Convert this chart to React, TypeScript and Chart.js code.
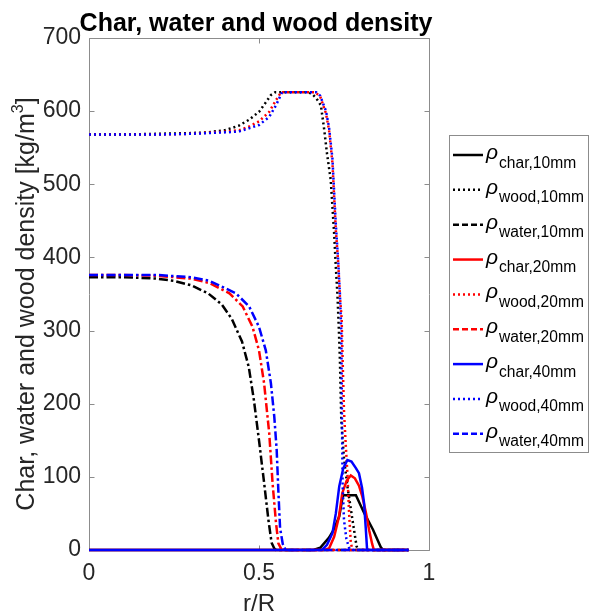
import React, { useEffect, useRef } from 'react';
import { Chart, registerables } from 'chart.js';

Chart.register(...registerables);

// ---------- tick values ----------
const xTickValues = [0, 0.5, 1];
const yTickValues = [0, 100, 200, 300, 400, 500, 600, 700];

// ---------- 10 mm ----------
const char10X = [0, 0.66, 0.68, 0.706, 0.72, 0.736, 0.747, 0.785, 0.81, 0.835, 0.858, 0.865, 0.94];
const char10Y = [0, 0, 3, 17, 28, 46, 75, 75, 50, 28, 4, 0, 0];

const wood10X = [0, 0.1, 0.2, 0.3, 0.35, 0.4, 0.44, 0.47, 0.5, 0.52, 0.535, 0.548, 0.64, 0.655, 0.668, 0.682, 0.692, 0.7, 0.711, 0.716, 0.721, 0.726, 0.731, 0.735, 0.738, 0.742, 0.75, 0.76, 0.775, 0.787, 0.792, 0.94];
const wood10Y = [568, 568, 569, 570, 571, 574, 580, 588, 599, 612, 622, 626, 626, 624, 618, 608, 574, 542, 506, 469, 433, 387, 346, 300, 260, 178, 125, 87, 41, 5, 0, 0];

const water10X = [0, 0.1, 0.2, 0.25, 0.3, 0.35, 0.39, 0.42, 0.45, 0.47, 0.485, 0.5, 0.515, 0.528, 0.537, 0.545, 0.55, 0.94];
const water10Y = [373, 373, 371, 368, 362, 351, 336, 316, 285, 250, 205, 150, 92, 40, 10, 2, 0, 0];

// ---------- 20 mm ----------
const char20X = [0, 0.69, 0.706, 0.721, 0.735, 0.745, 0.758, 0.77, 0.782, 0.794, 0.804, 0.815, 0.824, 0.833, 0.838, 0.94];
const char20Y = [0, 0, 2, 18, 45, 78, 95, 102, 98, 88, 73, 50, 27, 8, 0, 0];

const wood20X = [0, 0.2, 0.3, 0.4, 0.442, 0.471, 0.5, 0.53, 0.55, 0.565, 0.665, 0.68, 0.697, 0.706, 0.716, 0.721, 0.726, 0.733, 0.738, 0.743, 0.746, 0.75, 0.755, 0.76, 0.765, 0.77, 0.775, 0.94];
const wood20Y = [568, 568, 569, 572, 574, 579, 586, 599, 615, 626, 626, 620, 597, 574, 529, 483, 437, 392, 346, 317, 260, 190, 145, 105, 50, 10, 0, 0];

const water20X = [0, 0.1, 0.2, 0.3, 0.354, 0.413, 0.452, 0.481, 0.5, 0.515, 0.53, 0.54, 0.55, 0.557, 0.567, 0.94];
const water20Y = [376, 376, 375, 371, 365, 351, 333, 305, 273, 228, 160, 91, 37, 9, 0, 0];

// ---------- 40 mm ----------
const char40X = [0, 0.685, 0.7, 0.716, 0.726, 0.736, 0.748, 0.76, 0.772, 0.785, 0.794, 0.803, 0.809, 0.814, 0.818, 0.94];
const char40Y = [0, 0, 7, 23, 50, 87, 112, 123, 121, 112, 105, 85, 64, 30, 0, 0];

const wood40X = [0, 0.2, 0.3, 0.4, 0.44, 0.5, 0.53, 0.55, 0.568, 0.668, 0.68, 0.697, 0.706, 0.716, 0.721, 0.726, 0.733, 0.738, 0.742, 0.744, 0.746, 0.75, 0.757, 0.765, 0.768, 0.94];
const wood40Y = [568, 568, 569, 571, 572, 581, 592, 608, 626, 626, 621, 600, 578, 535, 490, 445, 395, 350, 300, 178, 87, 41, 15, 3, 0, 0];

const water40X = [0, 0.1, 0.2, 0.3, 0.354, 0.432, 0.471, 0.5, 0.52, 0.535, 0.545, 0.552, 0.557, 0.562, 0.57, 0.578, 0.94];
const water40Y = [376, 376, 376, 373, 368, 351, 333, 305, 273, 228, 182, 137, 80, 30, 8, 0, 0];

// ---------- legend labels ----------
const legendSubs = [
  'char,10mm', 'wood,10mm', 'water,10mm',
  'char,20mm', 'wood,20mm', 'water,20mm',
  'char,40mm', 'wood,40mm', 'water,40mm',
];

const titleText = 'Char, water and wood density';
const yLabelMain = 'Char, water and wood density [kg/m';
const xLabelText = 'r/R';

const FONT = "'Liberation Sans', Arial, Helvetica, sans-serif";
const AXIS_GRAY = '#8c8c8c';
const TEXT_COLOR = '#262626';

const DOT = [2, 3];
const DASHDOT = [9, 3, 2.5, 3];

const seriesList = [
  { x: char10X, y: char10Y, color: '#000000', dash: [] as number[] },
  { x: wood10X, y: wood10Y, color: '#000000', dash: DOT },
  { x: water10X, y: water10Y, color: '#000000', dash: DASHDOT },
  { x: char20X, y: char20Y, color: '#ff0000', dash: [] as number[] },
  { x: wood20X, y: wood20Y, color: '#ff0000', dash: DOT },
  { x: water20X, y: water20Y, color: '#ff0000', dash: DASHDOT },
  { x: char40X, y: char40Y, color: '#0000ff', dash: [] as number[] },
  { x: wood40X, y: wood40Y, color: '#0000ff', dash: DOT },
  { x: water40X, y: water40Y, color: '#0000ff', dash: DASHDOT },
];

const legendDash = [[], [2, 3], [6, 3]];

const decorPlugin = {
  id: 'matlabDecor',
  beforeDatasetsDraw(chart: any) {
    const { ctx, chartArea: a, scales } = chart;
    ctx.save();
    ctx.strokeStyle = AXIS_GRAY;
    ctx.lineWidth = 1;
    const L = Math.round(a.left) + 0.5;
    const R = Math.round(a.right) + 0.5;
    const T = Math.round(a.top) + 0.5;
    const B = Math.round(a.bottom) + 0.5;
    ctx.beginPath();
    ctx.rect(L, T, R - L, B - T);
    ctx.stroke();
    const tl = 5;
    ctx.beginPath();
    yTickValues.forEach((v) => {
      const y = Math.round(scales.y.getPixelForValue(v)) + 0.5;
      ctx.moveTo(L, y); ctx.lineTo(L + tl, y);
      ctx.moveTo(R, y); ctx.lineTo(R - tl, y);
    });
    xTickValues.forEach((v) => {
      const x = Math.round(scales.x.getPixelForValue(v)) + 0.5;
      ctx.moveTo(x, B); ctx.lineTo(x, B - tl);
      ctx.moveTo(x, T); ctx.lineTo(x, T + tl);
    });
    ctx.stroke();
    ctx.restore();
  },
  afterDraw(chart: any) {
    const { ctx, chartArea: a } = chart;
    ctx.save();
    // title
    ctx.fillStyle = '#000000';
    ctx.font = `bold 25px ${FONT}`;
    ctx.textAlign = 'center';
    ctx.textBaseline = 'alphabetic';
    ctx.fillText(titleText, (a.left + a.right) / 2 - 3, 31);

    // x label
    ctx.fillStyle = TEXT_COLOR;
    ctx.font = `24px ${FONT}`;
    ctx.fillText(xLabelText, (a.left + a.right) / 2, 611);

    // y label (rotated, with superscript 3)
    ctx.save();
    ctx.translate(34, 304);
    ctx.rotate(-Math.PI / 2);
    ctx.font = `25px ${FONT}`;
    const wMain = ctx.measureText(yLabelMain).width;
    ctx.font = `16px ${FONT}`;
    const wSup = ctx.measureText('3').width;
    ctx.font = `25px ${FONT}`;
    const wEnd = ctx.measureText(']').width;
    const total = wMain + wSup + wEnd;
    let cx = -total / 2;
    ctx.textAlign = 'left';
    ctx.fillText(yLabelMain, cx, 0);
    cx += wMain;
    ctx.font = `16px ${FONT}`;
    ctx.fillText('3', cx, -11);
    cx += wSup;
    ctx.font = `25px ${FONT}`;
    ctx.fillText(']', cx, 0);
    ctx.restore();

    // legend
    const bx = 449.5, by = 135.5, bw = 139, bh = 317;
    ctx.fillStyle = '#ffffff';
    ctx.fillRect(bx, by, bw, bh);
    ctx.strokeStyle = AXIS_GRAY;
    ctx.lineWidth = 1;
    ctx.setLineDash([]);
    ctx.strokeRect(bx, by, bw, bh);
    seriesList.forEach((s, i) => {
      const y = 155 + i * 34.85;
      ctx.save();
      ctx.strokeStyle = s.color;
      ctx.lineWidth = 2.5;
      ctx.setLineDash(legendDash[i % 3]);
      ctx.beginPath();
      ctx.moveTo(453, y);
      ctx.lineTo(483, y);
      ctx.stroke();
      ctx.restore();
      ctx.fillStyle = '#000000';
      ctx.textAlign = 'left';
      ctx.font = `italic 21px ${FONT}`;
      ctx.fillText('\u03C1', 486, y + 4);
      ctx.font = `15.6px ${FONT}`;
      ctx.fillText(legendSubs[i], 499, y + 12.5);
    });
    ctx.restore();
  },
};

export default function App() {
  const canvasRef = useRef<HTMLCanvasElement | null>(null);

  useEffect(() => {
    document.body.style.margin = '0';
    const canvas = canvasRef.current;
    if (!canvas) return;
    const datasets = seriesList.map((s, i) => ({
      label: legendSubs[i],
      data: s.x.map((x, k) => ({ x, y: s.y[k] })),
      borderColor: s.color,
      backgroundColor: s.color,
      borderWidth: 2.5,
      borderDash: s.dash,
      pointRadius: 0,
      tension: 0,
      fill: false,
      clip: 6,
      order: seriesList.length - i,
    }));
    const chart = new Chart(canvas, {
      type: 'line',
      data: { datasets },
      options: {
        animation: false,
        responsive: false,
        devicePixelRatio: 1,
        layout: { padding: { top: 38, right: 161, left: 0, bottom: 0 } },
        plugins: {
          legend: { display: false },
          title: { display: false },
          tooltip: { enabled: false },
        },
        scales: {
          x: {
            type: 'linear',
            min: 0,
            max: 1,
            afterBuildTicks: (scale: any) => {
              scale.ticks = xTickValues.map((v) => ({ value: v }));
            },
            afterFit: (scale: any) => { scale.height = 62; },
            grid: { display: false, drawTicks: false },
            border: { display: false },
            ticks: {
              color: TEXT_COLOR,
              font: { family: FONT, size: 23 },
              padding: 10,
              maxRotation: 0,
              autoSkip: false,
              callback: (v: any) => String(v),
            },
          },
          y: {
            type: 'linear',
            min: 0,
            max: 700,
            afterBuildTicks: (scale: any) => {
              scale.ticks = yTickValues.map((v) => ({ value: v }));
            },
            afterFit: (scale: any) => { scale.width = 89; },
            grid: { display: false, drawTicks: false },
            border: { display: false },
            ticks: {
              color: TEXT_COLOR,
              font: { family: FONT, size: 23 },
              padding: 8,
              autoSkip: false,
              callback: (v: any) => String(v),
            },
          },
        },
      },
      plugins: [decorPlugin],
    } as any);
    return () => chart.destroy();
  }, []);

  return (
    <div style={{ width: 590, height: 612 }}>
      <canvas ref={canvasRef} width={590} height={612} style={{ display: 'block' }} />
    </div>
  );
}
